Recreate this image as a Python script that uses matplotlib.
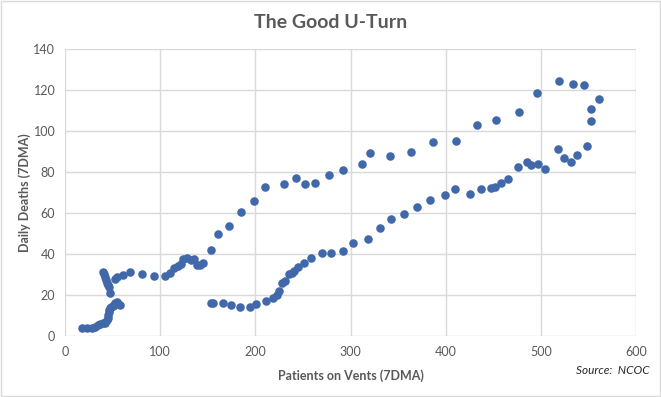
import matplotlib.pyplot as plt
from matplotlib.patches import Rectangle

# Daily deaths vs patients on ventilators (both 7-day moving averages)
vents = [18, 23, 28, 32, 35, 37, 40, 42, 44, 45, 45, 46, 46, 47, 48, 50, 52, 53, 55, 56, 58,
         40, 41, 42, 43, 44, 45, 46, 47, 53, 55, 61, 68, 81, 93, 105, 110, 115, 119, 122,
         124, 128, 132, 136, 139, 142, 145, 153, 161, 172, 185, 199, 210, 230, 243, 252,
         263, 277, 292, 312, 321, 341, 364, 387, 411, 433, 453, 477, 496, 519, 534, 545,
         561, 553, 553, 548,
         538, 532, 524, 518, 504, 497, 490, 485, 476, 466, 458, 452, 448, 437, 426, 410,
         399, 384, 370, 356, 343, 331, 318, 303, 292, 280, 270, 259, 251, 245, 241, 239,
         235, 231, 228, 225, 223, 219, 211, 201, 194, 184, 174, 166, 156, 153]
deaths = [4, 4, 4, 4.4, 5.5, 5.9, 6.3, 6.5, 7.8, 9, 10.2, 11.5, 12.7, 13.5, 14.1, 14.6, 15.1, 16, 16.6, 15.6, 15.1,
          31.2, 30.2, 28.8, 27.3, 25.9, 24.9, 23.9, 21, 27.8, 28.8, 29.8, 31.2, 30.2, 29.3, 29.3, 30.7, 33.2, 34.1, 35.1,
          37.6, 38, 37, 37.6, 34.6, 34.6, 35.6, 42, 49.8, 53.7, 60.5, 65.9, 72.7, 74.1, 77, 74.1,
          74.6, 78.5, 81, 83.9, 89.3, 87.8, 89.8, 94.6, 95.1, 102.9, 105.4, 109.3, 118.5, 124.4, 122.9, 122.4,
          115.6, 110.7, 104.9, 92.7,
          88.3, 84.9, 86.8, 91.2, 81.5, 83.9, 83.4, 84.9, 82.4, 76.6, 74.6, 72.7, 72.2, 71.7, 69.3, 71.7,
          68.8, 66.3, 62.9, 59.5, 57.1, 52.7, 47.3, 45.4, 41.5, 40.5, 40.5, 38, 35.6, 33.7, 31.7, 30.7,
          30.2, 26.8, 25.9, 22, 20, 18.5, 17.1, 15.6, 14.1, 14.1, 15.1, 16.1, 16.1, 16.1]

x_ticks = [0, 100, 200, 300, 400, 500, 600]
y_ticks = [0, 20, 40, 60, 80, 100, 120, 140]

grey = '#595959'
plt.rcParams['font.family'] = ['Lato', 'DejaVu Sans']

fig = plt.figure(figsize=(6.61, 3.97), dpi=100)
fig.patches.append(Rectangle((0.002, 0.003), 0.996, 0.994, transform=fig.transFigure,
                             fill=False, edgecolor='#D9D9D9', linewidth=1))
ax = fig.add_axes([65 / 661, 61 / 397, 571 / 661, 287 / 397])

ax.scatter(vents, deaths, s=38, color='#4169AA', zorder=3, linewidths=0)

ax.set_xlim(0, 600)
ax.set_ylim(0, 140)
ax.set_xticks(x_ticks)
ax.set_yticks(y_ticks)
ax.grid(True, color='#D9D9D9', linewidth=1)
ax.set_axisbelow(True)
for s in ax.spines.values():
    s.set_visible(False)
ax.tick_params(length=0, colors=grey, labelsize=9, pad=7)

ax.set_xlabel('Patients on Vents (7DMA)', color=grey, fontsize=9, fontweight='bold', labelpad=8)
ax.set_ylabel('Daily Deaths (7DMA)', color=grey, fontsize=9, fontweight='bold', labelpad=2)
fig.text(0.5, 1 - 22 / 397, 'The Good U-Turn', ha='center', va='center',
         fontsize=14, fontweight='bold', color=grey)
fig.text(650 / 661, 1 - 371 / 397, 'Source:  NCOC', ha='right', va='center',
         fontsize=8.5, style='italic', color='#262626')

fig.savefig('out.png', dpi=100)
